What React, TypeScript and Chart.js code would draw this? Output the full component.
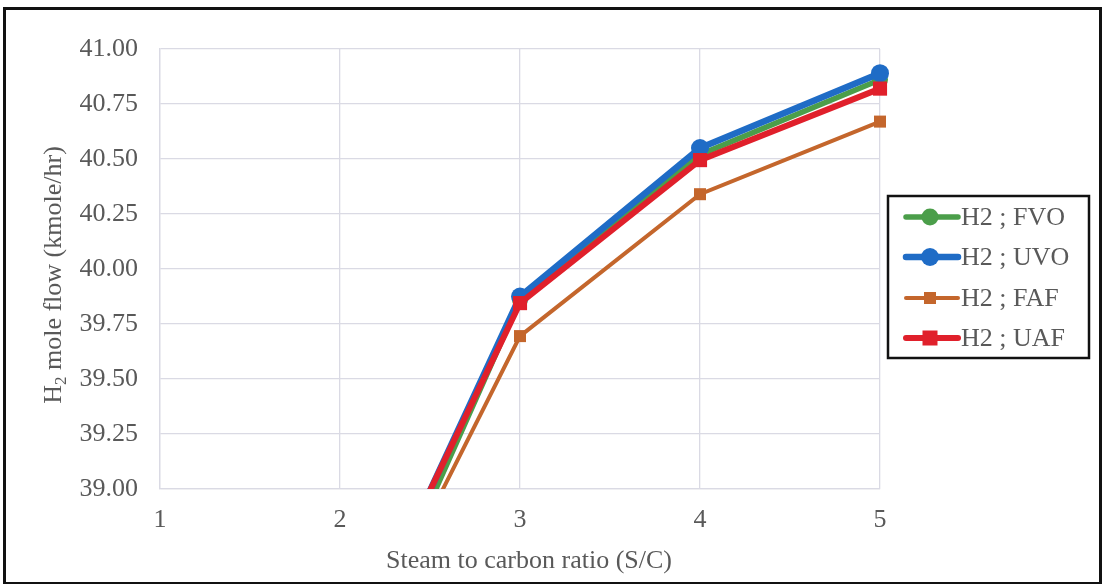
import React, { useEffect, useRef } from "react";
import { Chart, registerables } from "chart.js";

Chart.register(...registerables);

const xValues = [2, 3, 4, 5];
const fvo = [38.02, 39.86, 40.52, 40.86];
const uvo = [38.11, 39.875, 40.55, 40.89];
const faf = [38.07, 39.695, 40.34, 40.67];
const uaf = [38.14, 39.845, 40.495, 40.82];
const seriesNames = ["H2 ; FVO", "H2 ; UVO", "H2 ; FAF", "H2 ; UAF"];
const yTicks = [39, 39.25, 39.5, 39.75, 40, 40.25, 40.5, 40.75, 41];

const COLORS = ["#4b9e4a", "#1f6cc6", "#c4662c", "#e0202b"];
const STYLES = ["circle", "circle", "rect", "rect"];
const RADII = [8, 9, 8.5, 10];
const LEG_SIZE = [8.5, 9, 6, 7.5];
const WIDTHS = [5.5, 6.5, 4, 6];
const FONT = "'Liberation Serif', 'Times New Roman', serif";
const TEXT = "#595959";
const FS = 26;

const toPts = (arr: number[]) => arr.map((y, i) => ({ x: xValues[i], y }));

const overlay = {
  id: "overlay",
  afterDraw(chart: any) {
    const ctx = chart.ctx as CanvasRenderingContext2D;
    ctx.save();
    // Y title with subscript
    ctx.translate(54, 275);
    ctx.rotate(-Math.PI / 2);
    ctx.fillStyle = TEXT;
    ctx.textBaseline = "middle";
    const big = `${FS}px ${FONT}`;
    const small = `17px ${FONT}`;
    const p1 = "H";
    const p2 = "2";
    const p3 = " mole flow (kmole/hr)";
    ctx.font = big;
    const w1 = ctx.measureText(p1).width;
    const w3 = ctx.measureText(p3).width;
    ctx.font = small;
    const w2 = ctx.measureText(p2).width;
    let x = -(w1 + w2 + w3) / 2;
    ctx.font = big;
    ctx.fillText(p1, x, 0);
    x += w1;
    ctx.font = small;
    ctx.fillText(p2, x, 8);
    x += w2;
    ctx.font = big;
    ctx.fillText(p3, x, 0);
    ctx.restore();

    // X title
    ctx.save();
    ctx.fillStyle = TEXT;
    ctx.font = `${FS}px ${FONT}`;
    ctx.textAlign = "center";
    ctx.textBaseline = "middle";
    ctx.fillText("Steam to carbon ratio (S/C)", 529, 561);
    ctx.restore();

    // Legend
    ctx.save();
    ctx.fillStyle = "#ffffff";
    ctx.fillRect(888, 196, 201, 162);
    ctx.strokeStyle = "#111111";
    ctx.lineWidth = 2.5;
    ctx.strokeRect(888, 196, 201, 162);
    const ys = [217, 257, 298, 338];
    seriesNames.forEach((name, i) => {
      const y = ys[i];
      ctx.strokeStyle = COLORS[i];
      ctx.lineWidth = WIDTHS[i];
      ctx.lineCap = "round";
      ctx.beginPath();
      ctx.moveTo(906, y);
      ctx.lineTo(958, y);
      ctx.stroke();
      ctx.fillStyle = COLORS[i];
      const r = LEG_SIZE[i];
      if (STYLES[i] === "circle") {
        ctx.beginPath();
        ctx.arc(930, y, r, 0, Math.PI * 2);
        ctx.fill();
      } else {
        ctx.fillRect(930 - r, y - r, 2 * r, 2 * r);
      }
      ctx.fillStyle = TEXT;
      ctx.font = `${FS}px ${FONT}`;
      ctx.textAlign = "left";
      ctx.textBaseline = "middle";
      ctx.fillText(name, 961, y + 1);
    });
    ctx.restore();
  },
};

export default function App() {
  const ref = useRef<HTMLCanvasElement>(null);
  useEffect(() => {
    document.body.style.margin = "0";
    const data = [fvo, uvo, faf, uaf];
    const chart = new Chart(ref.current!, {
      type: "line",
      data: {
        datasets: data.map((arr, i) => ({
          label: seriesNames[i],
          data: toPts(arr),
          borderColor: COLORS[i],
          backgroundColor: COLORS[i],
          borderWidth: WIDTHS[i],
          pointStyle: STYLES[i] as any,
          pointRadius: RADII[i],
          pointBorderWidth: 0,
          pointBackgroundColor: COLORS[i],
          tension: 0,
          order: 4 - i,
          clip: { left: 0, top: 12, right: 12, bottom: 0 } as any,
        })),
      },
      options: {
        animation: false,
        responsive: false,
        layout: { padding: { left: 0, top: 49, right: 225, bottom: 0 } },
        plugins: { legend: { display: false }, tooltip: { enabled: false } },
        scales: {
          x: {
            type: "linear",
            min: 1,
            max: 5,
            afterFit: (s: any) => {
              s.height = 95;
            },
            ticks: {
              stepSize: 1,
              padding: 16,
              color: TEXT,
              font: { family: FONT, size: FS },
            },
            grid: { color: "#dadae4", lineWidth: 1.3, drawTicks: false },
            border: { color: "#dadae4", width: 1.3 },
          },
          y: {
            min: 39,
            max: 41,
            afterFit: (s: any) => {
              s.width = 160;
            },
            afterBuildTicks: (s: any) => {
              s.ticks = yTicks.map((v) => ({ value: v }));
            },
            ticks: {
              padding: 22,
              color: TEXT,
              font: { family: FONT, size: FS },
              callback: (v: any) => Number(v).toFixed(2),
            },
            grid: { color: "#dadae4", lineWidth: 1.3, drawTicks: false },
            border: { color: "#dadae4", width: 1.3 },
          },
        },
      },
      plugins: [overlay],
    });
    return () => chart.destroy();
  }, []);

  return (
    <div style={{ position: "relative", width: 1105, height: 584, background: "#fff", overflow: "hidden" }}>
      <canvas ref={ref} width={1105} height={584} style={{ position: "absolute", left: 0, top: 0 }} />
      <div
        style={{
          position: "absolute",
          left: 3,
          top: 7,
          width: 1093,
          height: 572,
          border: "3px solid #111",
          pointerEvents: "none",
        }}
      />
    </div>
  );
}
